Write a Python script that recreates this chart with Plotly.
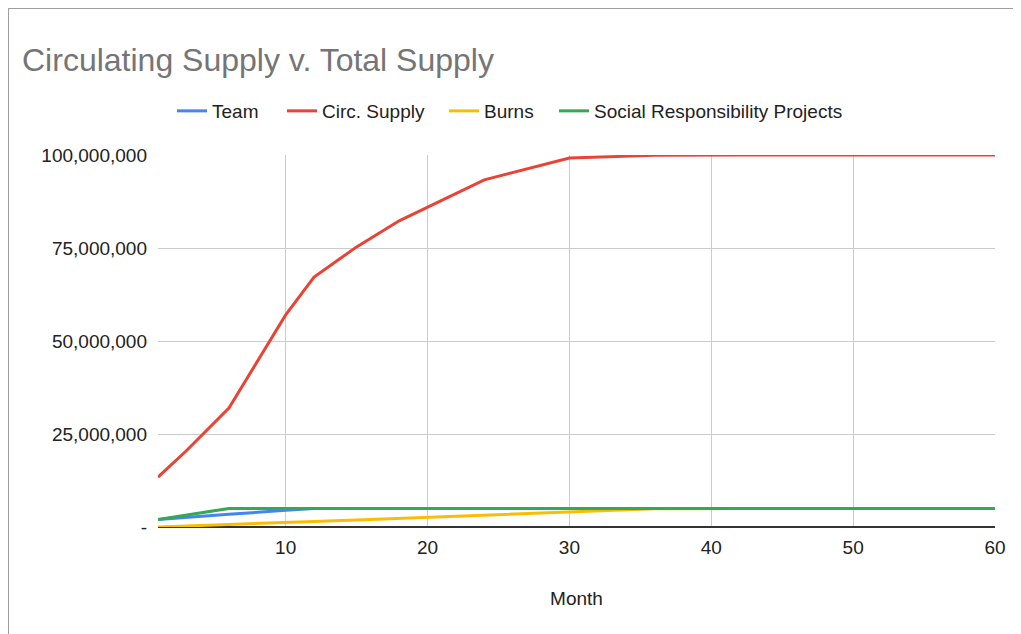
import plotly.graph_objects as go

months = [1, 3, 6, 10, 12, 15, 18, 24, 30, 36, 42, 48, 54, 60]
team = [2.0e6, 2.5e6, 3.4e6, 4.5e6, 5.0e6, 5.0e6, 5.0e6, 5.0e6, 5.0e6, 5.0e6, 5.0e6, 5.0e6, 5.0e6, 5.0e6]
circ_supply = [13.4e6, 20.5e6, 32.0e6, 57.0e6, 67.2e6, 75.3e6, 82.3e6, 93.3e6, 99.2e6, 99.9e6, 100.0e6, 100.0e6, 100.0e6, 100.0e6]
burns = [0.0, 0.3e6, 0.7e6, 1.25e6, 1.5e6, 1.9e6, 2.35e6, 3.2e6, 4.1e6, 4.9e6, 5.0e6, 5.0e6, 5.0e6, 5.0e6]
social = [2.0e6, 3.2e6, 5.0e6, 5.0e6, 5.0e6, 5.0e6, 5.0e6, 5.0e6, 5.0e6, 5.0e6, 5.0e6, 5.0e6, 5.0e6, 5.0e6]

series = [
    ("Team", team, "#4285F4"),
    ("Circ. Supply", circ_supply, "#EA4335"),
    ("Burns", burns, "#FBBC04"),
    ("Social Responsibility Projects", social, "#34A853"),
]

y_tickvals = [0, 25e6, 50e6, 75e6, 100e6]
y_ticktext = ["-", "25,000,000", "50,000,000", "75,000,000", "100,000,000"]
x_tickvals = [10, 20, 30, 40, 50, 60]

FONT = "Liberation Sans, Arial, sans-serif"
W, H = 1013, 626  # page body has an 8px margin
PW = 837
legend_text_x = [212, 322, 484, 594]  # page x where each legend label starts

fig = go.Figure()
legend_ids = ["legend", "legend2", "legend3", "legend4"]
for (name, vals, color), lid in zip(series, legend_ids):
    fig.add_trace(go.Scatter(x=months, y=vals, mode="lines", name=name, legend=lid,
                             line=dict(color=color, width=3)))

layout_legends = {}
for lid, tx in zip(legend_ids, legend_text_x):
    layout_legends[lid] = dict(orientation="h", x=(tx - 40 - 158) / PW, xanchor="left",
                               y=1 - 103 / H, yref="container", yanchor="middle",
                               font=dict(size=19, color="#222222"), itemwidth=30,
                               itemclick=False, bgcolor="rgba(0,0,0,0)")

fig.update_layout(
    width=W, height=H,
    paper_bgcolor="white", plot_bgcolor="white",
    font=dict(family=FONT, size=19, color="#222222"),
    title=dict(text="Circulating Supply v. Total Supply", x=14 / W, xref="container", xanchor="left",
               y=1 - 52 / H, yref="container", yanchor="middle",
               font=dict(size=32, color="#757575", family=FONT)),
    margin=dict(l=150, r=26, t=147, b=107),
    showlegend=True,
    **layout_legends,
)
fig.update_xaxes(range=[1, 60], tickvals=x_tickvals, showgrid=True, gridcolor="#cccccc", gridwidth=1,
                 zeroline=False, showline=False, ticks="", ticklabelstandoff=7,
                 title=dict(text="Month", font=dict(size=19, color="#222222"), standoff=34))
fig.update_yaxes(range=[0, 100e6], tickvals=y_tickvals, ticktext=y_ticktext, showgrid=True,
                 gridcolor="#cccccc", gridwidth=1, zeroline=True, zerolinecolor="#333333", zerolinewidth=2,
                 showline=False, ticks="", ticklabelstandoff=10)
fig.add_shape(type="rect", xref="paper", yref="paper", x0=-150 / PW, x1=(1040 - 150) / PW,
              y0=(519 - 650) / 372, y1=519 / 372, line=dict(color="#9e9e9e", width=2),
              fillcolor="rgba(0,0,0,0)", layer="below")
fig.write_html("out.html")
